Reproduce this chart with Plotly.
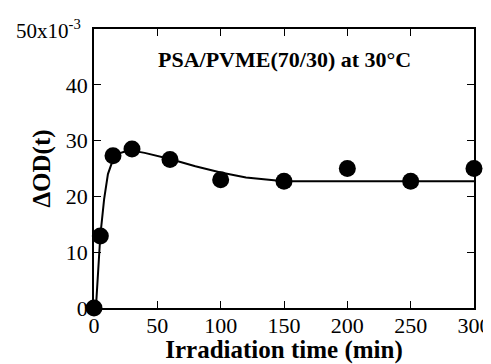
import plotly.graph_objects as go

time_min = [0, 5, 15, 30, 60, 100, 150, 200, 250, 300]
delta_od = [0.0, 12.9, 27.3, 28.5, 26.6, 23.0, 22.7, 25.0, 22.7, 25.0]

fit_t = [1.5, 3, 5, 8, 11, 15, 20, 25, 30, 40, 50, 60, 80, 100, 120, 140, 150, 300]
fit_od = [0, 6, 13, 19.5, 24, 26.6, 27.7, 28.1, 28.2, 27.8, 27.3, 26.7, 25.4, 24.3, 23.4, 22.9, 22.7, 22.7]

x_ticks = [0, 50, 100, 150, 200, 250, 300]
y_ticks = [0, 10, 20, 30, 40, 50]
y_ticktext = ["0", "10", "20", "30", "40", ""]
y_top_label = "50x10<sup>-3</sup>"

FONT = "Liberation Serif"

fig = go.Figure()
fig.add_trace(go.Scatter(x=fit_t, y=fit_od, mode="lines",
                         line=dict(color="black", width=2), showlegend=False))
fig.add_trace(go.Scatter(x=time_min, y=delta_od, mode="markers",
                         marker=dict(color="black", size=17), showlegend=False,
                         cliponaxis=False))

fig.add_annotation(x=0.5, y=0.889, xref="paper", yref="paper", yanchor="middle",
                   text="<b>PSA/PVME(70/30) at 30°C</b>", showarrow=False,
                   font=dict(family=FONT, size=22, color="black"))
fig.add_annotation(x=-0.03, y=50, xref="paper", yref="y", xanchor="right",
                   yanchor="middle", text=y_top_label, showarrow=False,
                   font=dict(family=FONT, size=21, color="black"))

axis_common = dict(showgrid=False, zeroline=False, showline=True, linecolor="black",
                   linewidth=1.5, mirror="ticks", ticks="inside", ticklen=7,
                   tickcolor="black", tickwidth=1.2, automargin=False,
                   ticklabeloverflow="allow",
                   tickfont=dict(family=FONT, size=22, color="black"))

fig.update_xaxes(range=[0, 300], tickvals=x_ticks, ticklabelstandoff=-3,
                 title=dict(text="<b>Irradiation time (min)</b>", standoff=5,
                            font=dict(family=FONT, size=25, color="black")),
                 **axis_common)
fig.update_yaxes(range=[0, 50], tickvals=y_ticks, ticktext=y_ticktext,
                 title=dict(text="<b>ΔOD(t)</b>", standoff=8,
                            font=dict(family=FONT, size=25, color="black")),
                 **axis_common)

# page body has an 8px margin, so the figure is sized/offset to compensate
fig.update_layout(width=483, height=356, plot_bgcolor="white", paper_bgcolor="white",
                  margin=dict(l=86, r=17, t=21, b=56))

fig.write_html("out.html")
